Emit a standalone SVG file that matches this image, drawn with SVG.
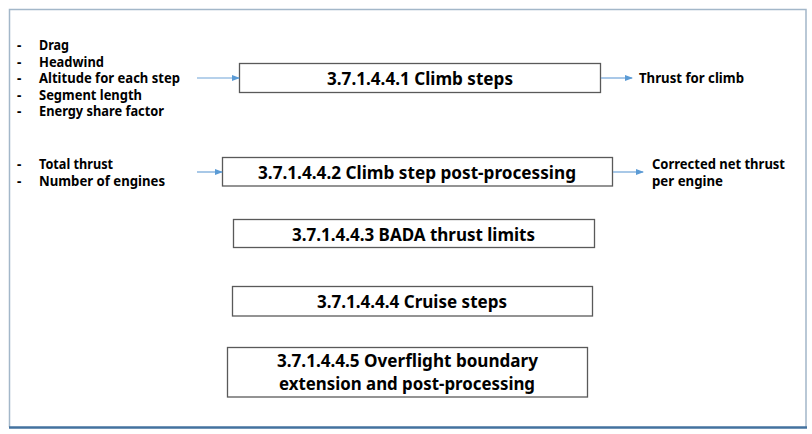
<svg xmlns="http://www.w3.org/2000/svg" width="812" height="434" viewBox="0 0 812 434">
<style>
.frame{fill:none;stroke:#a3b7c9;stroke-width:1.5}
.box{fill:#ffffff;stroke:#595959;stroke-width:1.3}
.t{font-family:"Noto Sans","Liberation Sans",sans-serif;font-weight:bold;fill:#000}
.bt{font-size:18px;text-anchor:middle}
.lt{font-size:13.5px}
.conn{stroke:#6fa3d8;stroke-width:1.2;fill:none;marker-end:url(#ah)}
</style>
<defs>
<marker id="ah" markerWidth="8" markerHeight="6" refX="7" refY="3" orient="auto" markerUnits="userSpaceOnUse">
<path d="M0,0 L8,3 L0,6 Z" fill="#5b9bd5"/>
</marker>
</defs>
<rect width="812" height="434" fill="#ffffff"/>
<path class="frame" d="M9.5,427 V9.5 H806 V427"/>
<line x1="9" y1="427.5" x2="807" y2="427.5" stroke="#43729f" stroke-width="2.5"/>

<g id="inputs1">
<text class="t lt" x="17" y="50">-</text><text class="t lt" x="39" y="50" textLength="30" lengthAdjust="spacingAndGlyphs">Drag</text>
<text class="t lt" x="17" y="66.5">-</text><text class="t lt" x="39" y="66.5" textLength="65" lengthAdjust="spacingAndGlyphs">Headwind</text>
<text class="t lt" x="17" y="83">-</text><text class="t lt" x="39" y="83" textLength="141" lengthAdjust="spacingAndGlyphs">Altitude for each step</text>
<text class="t lt" x="17" y="99.5">-</text><text class="t lt" x="39" y="99.5" textLength="103" lengthAdjust="spacingAndGlyphs">Segment length</text>
<text class="t lt" x="17" y="116">-</text><text class="t lt" x="39" y="116" textLength="125" lengthAdjust="spacingAndGlyphs">Energy share factor</text>
</g>

<g id="inputs2">
<text class="t lt" x="17" y="169">-</text><text class="t lt" x="39" y="169" textLength="74" lengthAdjust="spacingAndGlyphs">Total thrust</text>
<text class="t lt" x="17" y="186">-</text><text class="t lt" x="39" y="186" textLength="126" lengthAdjust="spacingAndGlyphs">Number of engines</text>
</g>

<g id="output1">
<text class="t lt" x="639" y="83" textLength="105" lengthAdjust="spacingAndGlyphs">Thrust for climb</text>
</g>

<g id="output2">
<text class="t lt" x="652" y="169" textLength="133" lengthAdjust="spacingAndGlyphs">Corrected net thrust</text>
<text class="t lt" x="652" y="186" textLength="71" lengthAdjust="spacingAndGlyphs">per engine</text>
</g>

<g id="node1">
<rect class="box" x="239.5" y="63.5" width="361" height="29"/>
<text class="t bt" x="420" y="84.5" textLength="186" lengthAdjust="spacingAndGlyphs">3.7.1.4.4.1 Climb steps</text>
</g>
<g id="node2">
<rect class="box" x="222.5" y="157.5" width="390" height="28.5"/>
<text class="t bt" x="417" y="178.5" textLength="318" lengthAdjust="spacingAndGlyphs">3.7.1.4.4.2 Climb step post-processing</text>
</g>
<g id="node3">
<rect class="box" x="233.5" y="219.5" width="361" height="28"/>
<text class="t bt" x="413.5" y="240.5" textLength="243" lengthAdjust="spacingAndGlyphs">3.7.1.4.4.3 BADA thrust limits</text>
</g>
<g id="node4">
<rect class="box" x="232.5" y="286.5" width="360" height="29.5"/>
<text class="t bt" x="412" y="307.5" textLength="190" lengthAdjust="spacingAndGlyphs">3.7.1.4.4.4 Cruise steps</text>
</g>
<g id="node5">
<rect class="box" x="227.5" y="347.5" width="360" height="49.5"/>
<text class="t bt" x="407.5" y="366.5" textLength="261" lengthAdjust="spacingAndGlyphs">3.7.1.4.4.5 Overflight boundary</text>
<text class="t bt" x="407" y="389.5" textLength="256" lengthAdjust="spacingAndGlyphs">extension and post-processing</text>
</g>

<g id="connectors">
<line class="conn" x1="197" y1="78" x2="239" y2="78"/>
<line class="conn" x1="601" y1="78" x2="632" y2="78"/>
<line class="conn" x1="197" y1="172" x2="222" y2="172"/>
<line class="conn" x1="613" y1="172" x2="643" y2="172"/>
</g>
</svg>
